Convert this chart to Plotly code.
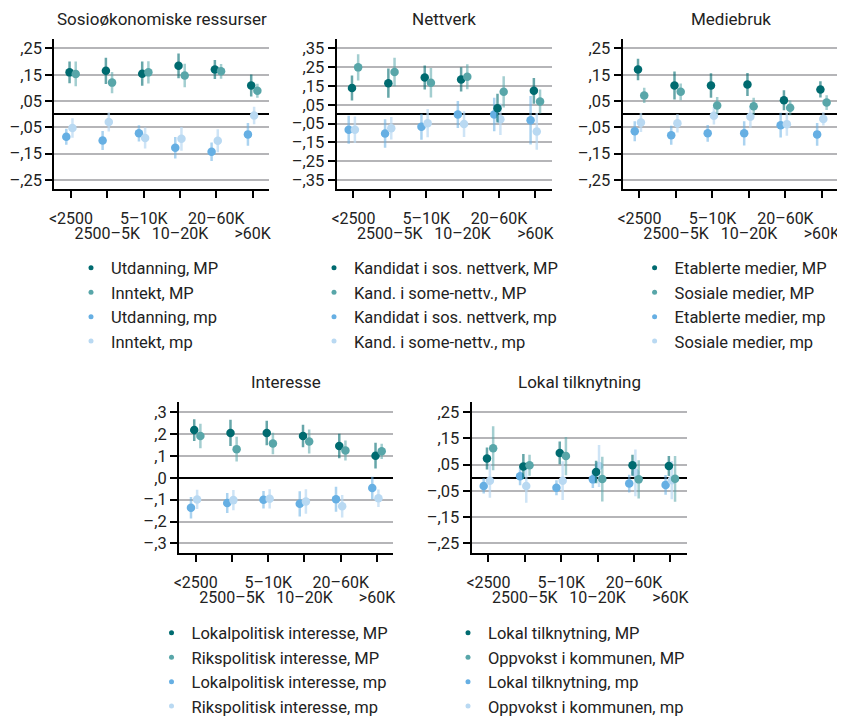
import plotly.graph_objects as go

categories = ["<2500", "2500–5K", "5–10K", "10–20K", "20–60K", ">60K"]

# Sosioøkonomiske ressurser
utd_MP = [0.159, 0.165, 0.154, 0.184, 0.170, 0.109]
utd_MP_err = [0.041, 0.050, 0.046, 0.047, 0.036, 0.042]
inn_MP = [0.153, 0.120, 0.159, 0.147, 0.163, 0.089]
inn_MP_err = [0.047, 0.040, 0.042, 0.045, 0.028, 0.027]
utd_mp = [-0.086, -0.100, -0.073, -0.128, -0.143, -0.077]
utd_mp_err = [0.030, 0.036, 0.031, 0.041, 0.035, 0.043]
inn_mp = [-0.053, -0.030, -0.091, -0.094, -0.101, -0.005]
inn_mp_err = [0.037, 0.036, 0.040, 0.045, 0.044, 0.033]

# Nettverk
kand_MP = [0.139, 0.165, 0.195, 0.185, 0.032, 0.124]
kand_MP_err = [0.067, 0.078, 0.064, 0.065, 0.076, 0.069]
some_MP = [0.249, 0.224, 0.167, 0.199, 0.119, 0.067]
some_MP_err = [0.070, 0.076, 0.078, 0.066, 0.083, 0.064]
kand_mp = [-0.083, -0.103, -0.067, -0.002, -0.002, -0.032]
kand_mp_err = [0.075, 0.076, 0.069, 0.072, 0.089, 0.129]
some_mp = [-0.083, -0.075, -0.048, -0.053, -0.027, -0.092]
some_mp_err = [0.070, 0.060, 0.075, 0.068, 0.084, 0.098]

# Mediebruk
etab_MP = [0.170, 0.109, 0.109, 0.113, 0.053, 0.094]
etab_MP_err = [0.041, 0.053, 0.047, 0.044, 0.038, 0.031]
sos_MP = [0.071, 0.085, 0.033, 0.030, 0.024, 0.044]
sos_MP_err = [0.029, 0.032, 0.032, 0.032, 0.028, 0.028]
etab_mp = [-0.065, -0.080, -0.073, -0.073, -0.042, -0.077]
etab_mp_err = [0.038, 0.036, 0.032, 0.046, 0.047, 0.043]
sos_mp = [-0.032, -0.035, -0.006, -0.010, -0.038, -0.018]
sos_mp_err = [0.036, 0.035, 0.033, 0.042, 0.044, 0.025]

# Interesse
lok_MP = [0.218, 0.205, 0.205, 0.191, 0.145, 0.101]
lok_MP_err = [0.050, 0.060, 0.056, 0.051, 0.056, 0.059]
riks_MP = [0.191, 0.131, 0.157, 0.166, 0.125, 0.121]
riks_MP_err = [0.056, 0.057, 0.049, 0.055, 0.046, 0.035]
lok_mp = [-0.137, -0.115, -0.100, -0.119, -0.098, -0.047]
lok_mp_err = [0.049, 0.046, 0.040, 0.058, 0.057, 0.052]
riks_mp = [-0.099, -0.102, -0.096, -0.108, -0.130, -0.093]
riks_mp_err = [0.044, 0.046, 0.044, 0.056, 0.051, 0.040]

# Lokal tilknytning
tilk_MP = [0.074, 0.043, 0.095, 0.022, 0.048, 0.045]
tilk_MP_err = [0.042, 0.048, 0.043, 0.043, 0.040, 0.038]
oppv_MP = [0.113, 0.048, 0.083, -0.005, -0.006, -0.004]
oppv_MP_err = [0.084, 0.040, 0.073, 0.085, 0.073, 0.087]
tilk_mp = [-0.031, 0.006, -0.038, -0.006, -0.022, -0.027]
tilk_mp_err = [0.029, 0.034, 0.029, 0.033, 0.034, 0.038]
oppv_mp = [-0.011, -0.031, -0.011, 0.045, 0.019, -0.009]
oppv_mp_err = [0.065, 0.064, 0.074, 0.080, 0.089, 0.073]

ticks_25 = [0.25, 0.15, 0.05, -0.05, -0.15, -0.25]
ticks_25_text = [",25", ",15", ",05", "–,05", "–,15", "–,25"]
ticks_35 = [0.35, 0.25, 0.15, 0.05, -0.05, -0.15, -0.25, -0.35]
ticks_35_text = [",35", ",25", ",15", ",05", "–,05", "–,15", "–,25", "–,35"]
ticks_3 = [0.3, 0.2, 0.1, 0.0, -0.1, -0.2, -0.3]
ticks_3_text = [",3", ",2", ",1", ",0", "–,1", "–,2", "–,3"]

colors = ["#006b70", "#58a6a9", "#66afe3", "#b9d9f2"]
whisker = ["rgba(0,107,112,0.6)", "rgba(88,166,169,0.55)",
           "rgba(102,175,227,0.55)", "rgba(185,217,242,0.7)"]
offsets = [-0.04, 0.13, -0.13, 0.04]

FONT = "Roboto"
TXT = "#222222"
# the html body keeps its 8px margin, so the figure is drawn 8px in from the top-left
OFF = 8
W, H = 845 - OFF, 716 - OFF

# positions below are page pixels (plot box x0,x1 / y0,y1 and legend left,top)
panels = [
    dict(title="Sosioøkonomiske ressurser",
         series=[("Utdanning, MP", utd_MP, utd_MP_err), ("Inntekt, MP", inn_MP, inn_MP_err),
                 ("Utdanning, mp", utd_mp, utd_mp_err), ("Inntekt, mp", inn_mp, inn_mp_err)],
         yt=(ticks_25, ticks_25_text), yr=0.286,
         px=(54.3, 269), py=(39, 189.3), leg=(71, 250.5)),
    dict(title="Nettverk",
         series=[("Kandidat i sos. nettverk, MP", kand_MP, kand_MP_err),
                 ("Kand. i some-nettv., MP", some_MP, some_MP_err),
                 ("Kandidat i sos. nettverk, mp", kand_mp, kand_mp_err),
                 ("Kand. i some-nettv., mp", some_mp, some_mp_err)],
         yt=(ticks_35, ticks_35_text), yr=0.4,
         px=(336.7, 551.7), py=(39, 189.3), leg=(314, 250.5)),
    dict(title="Mediebruk",
         series=[("Etablerte medier, MP", etab_MP, etab_MP_err), ("Sosiale medier, MP", sos_MP, sos_MP_err),
                 ("Etablerte medier, mp", etab_mp, etab_mp_err), ("Sosiale medier, mp", sos_mp, sos_mp_err)],
         yt=(ticks_25, ticks_25_text), yr=0.286,
         px=(622.7, 838.3), py=(39, 189.3), leg=(634.6, 250.5)),
    dict(title="Interesse",
         series=[("Lokalpolitisk interesse, MP", lok_MP, lok_MP_err),
                 ("Rikspolitisk interesse, MP", riks_MP, riks_MP_err),
                 ("Lokalpolitisk interesse, mp", lok_mp, lok_mp_err),
                 ("Rikspolitisk interesse, mp", riks_mp, riks_mp_err)],
         yt=(ticks_3, ticks_3_text), yr=0.345,
         px=(179, 393.3), py=(402.3, 553.3), leg=(151.5, 615.5)),
    dict(title="Lokal tilknytning",
         series=[("Lokal tilknytning, MP", tilk_MP, tilk_MP_err),
                 ("Oppvokst i kommunen, MP", oppv_MP, oppv_MP_err),
                 ("Lokal tilknytning, mp", tilk_mp, tilk_mp_err),
                 ("Oppvokst i kommunen, mp", oppv_mp, oppv_mp_err)],
         yt=(ticks_25, ticks_25_text), yr=0.288,
         px=(471.7, 686.7), py=(402.3, 553.3), leg=(448, 615.5)),
]

fig = go.Figure()
layout = {}
annotations = []

for k, p in enumerate(panels):
    n = k + 1
    sx = "" if n == 1 else str(n)
    xa, ya = "x" + sx, "y" + sx
    xa2 = "x" + str(n + 5)
    legname = "legend" if n == 1 else "legend" + str(n)
    dom_x = [(p["px"][0] - OFF) / W, (p["px"][1] - OFF) / W]
    dom_y = [1 - (p["py"][1] - OFF) / H, 1 - (p["py"][0] - OFF) / H]

    # points with whiskers; draw mp series first so MP sits on top
    for i in [2, 3, 0, 1]:
        name, vals, errs = p["series"][i]
        fig.add_trace(go.Scatter(
            x=[j + offsets[i] for j in range(len(categories))], y=vals,
            mode="markers", name=name, showlegend=False,
            marker=dict(color=colors[i], size=8.5),
            error_y=dict(type="data", array=errs, color=whisker[i], thickness=2.5, width=0),
            xaxis=xa, yaxis=ya, hovertemplate="%{y:.3f}<extra>" + name + "</extra>"))
    # legend entries (small bullets)
    for i in range(4):
        fig.add_trace(go.Scatter(
            x=[None], y=[None], mode="markers", name=p["series"][i][0],
            marker=dict(color=colors[i], size=5), legend=legname,
            xaxis=xa2, yaxis=ya))

    ax_common = dict(domain=dom_x, range=[-0.46, 5.45], tickmode="array",
                     tickfont=dict(family=FONT, size=16, color=TXT),
                     showgrid=False, zeroline=False, fixedrange=True,
                     automargin=False, ticklabeloverflow="allow")
    # labels alternate on two rows: even categories on the main axis,
    # odd ones on an overlaying axis pushed down by invisible ticks
    layout["xaxis" + sx] = dict(
        ax_common, anchor=ya, tickvals=list(range(6)),
        ticktext=[c if j % 2 == 0 else "" for j, c in enumerate(categories)],
        ticks="outside", ticklen=7, tickwidth=2, tickcolor="black", ticklabelstandoff=6,
        showline=True, linecolor="black", linewidth=2)
    layout["xaxis" + str(n + 5)] = dict(
        ax_common, anchor=ya, overlaying=xa,
        tickvals=[j for j in range(6) if j % 2 == 1],
        ticktext=[c for j, c in enumerate(categories) if j % 2 == 1],
        ticks="outside", ticklen=29, tickcolor="rgba(0,0,0,0)", showline=False)
    layout["yaxis" + sx] = dict(
        domain=dom_y, anchor=xa, range=[-p["yr"], p["yr"]],
        tickmode="array", tickvals=p["yt"][0], ticktext=p["yt"][1],
        tickfont=dict(family=FONT, size=16.5, color=TXT),
        ticks="outside", ticklen=7, tickwidth=2, tickcolor="black",
        showline=True, linecolor="black", linewidth=2,
        showgrid=True, gridcolor="#b5b5b8", gridwidth=2,
        zeroline=True, zerolinecolor="black", zerolinewidth=2,
        fixedrange=True, automargin=False)
    layout[legname] = dict(
        x=(p["leg"][0] - OFF) / W, y=1 - (p["leg"][1] - OFF) / H,
        xanchor="left", yanchor="top",
        bgcolor="rgba(0,0,0,0)", font=dict(family=FONT, size=16.5, color=TXT),
        tracegroupgap=0)
    annotations.append(dict(
        text=p["title"], xref="paper", yref="paper",
        x=(dom_x[0] + dom_x[1]) / 2, y=1 - (p["py"][0] - 20 - OFF) / H,
        xanchor="center", yanchor="middle", showarrow=False,
        font=dict(family=FONT, size=17, color=TXT)))

fig.update_layout(
    template="none",
    width=W, height=H, margin=dict(l=0, r=0, t=0, b=0, autoexpand=False),
    paper_bgcolor="white", plot_bgcolor="white",
    font=dict(family=FONT, color=TXT), annotations=annotations,
    **layout)

fig.write_html("out.html")
